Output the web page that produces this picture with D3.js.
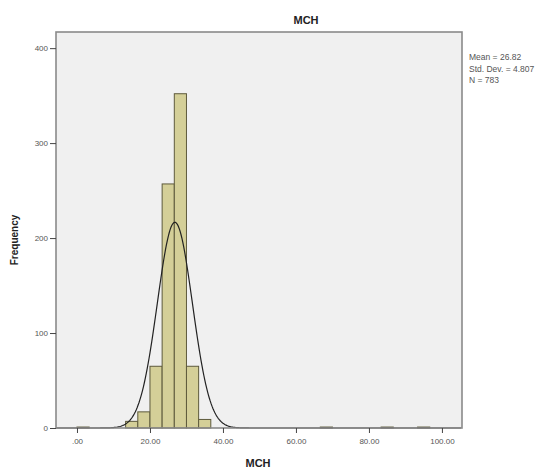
<!DOCTYPE html>
<html>
<head>
<meta charset="utf-8">
<script src="https://cdn.jsdelivr.net/npm/d3@7"></script>
<style>
  body { margin: 0; background: #fff; }
  text { font-family: Arial, "Liberation Sans", sans-serif; }
  .tick text { fill: #555; font-size: 8px; }
</style>
</head>
<body>
<script>
// Histogram of MCH with fitted normal curve (SPSS style).

// Bin lower edges (bin width 100/30) and counts.
var binStarts = [0, 13.333, 16.667, 20, 23.333, 26.667, 30, 33.333, 66.667, 83.333, 93.333];
var binCounts = [1, 7, 17, 65, 257, 352, 65, 9, 1, 1, 1];
var binWidth = 100 / 30;

var xTicks = [0, 20, 40, 60, 80, 100];
var xTickLabels = ['.00', '20.00', '40.00', '60.00', '80.00', '100.00'];
var yTicks = [0, 100, 200, 300, 400];

var statLabels = ['Mean = 26.82', 'Std. Dev. = 4.807', 'N = 783'];
var mean = 26.82, sd = 4.807, n = 783;

var width = 553, height = 470;
var box = { left: 56, right: 462, top: 32, bottom: 428 };

var svg = d3.select('body').append('svg')
  .attr('width', width)
  .attr('height', height);

var x = d3.scaleLinear().domain([-5.75, 105.5]).range([box.left, box.right]);
var y = d3.scaleLinear().domain([0, 417]).range([box.bottom, box.top]);

// plot background
svg.append('rect')
  .attr('x', box.left).attr('y', box.top)
  .attr('width', box.right - box.left).attr('height', box.bottom - box.top)
  .attr('fill', '#f0f0f0');

// bars
svg.append('g').selectAll('rect')
  .data(binStarts.map(function (s, i) { return { s: s, c: binCounts[i] }; }))
  .join('rect')
  .attr('x', function (d) { return x(d.s); })
  .attr('y', function (d) { return y(d.c); })
  .attr('width', function (d) { return x(d.s + binWidth) - x(d.s); })
  .attr('height', function (d) { return y(0) - y(d.c); })
  .attr('fill', '#d4cf98')
  .attr('stroke', '#5e5a3c')
  .attr('stroke-width', 1);

// fitted normal curve
var curvePts = d3.range(-5.75, 105.5, 0.25).map(function (v) {
  var z = (v - mean) / sd;
  return [v, n * binWidth / (sd * Math.sqrt(2 * Math.PI)) * Math.exp(-0.5 * z * z)];
});
svg.append('path')
  .datum(curvePts)
  .attr('fill', 'none')
  .attr('stroke', '#222')
  .attr('stroke-width', 1.2)
  .attr('d', d3.line()
    .x(function (d) { return x(d[0]); })
    .y(function (d) { return y(d[1]); }));

// frame
svg.append('rect')
  .attr('x', box.left).attr('y', box.top)
  .attr('width', box.right - box.left).attr('height', box.bottom - box.top)
  .attr('fill', 'none')
  .attr('stroke', '#8a8a8a')
  .attr('stroke-width', 1.6);

// axes
var xAxis = svg.append('g')
  .attr('transform', 'translate(0,' + box.bottom + ')')
  .call(d3.axisBottom(x).tickValues(xTicks)
    .tickFormat(function (d, i) { return xTickLabels[i]; })
    .tickSize(5).tickPadding(5));
xAxis.select('.domain').remove();
xAxis.selectAll('line').attr('stroke', '#444');

var yAxis = svg.append('g')
  .attr('transform', 'translate(' + box.left + ',0)')
  .call(d3.axisLeft(y).tickValues(yTicks).tickSize(6).tickPadding(2));
yAxis.select('.domain').remove();
yAxis.selectAll('line').attr('stroke', '#444');

// titles
svg.append('text')
  .attr('x', 306).attr('y', 24)
  .attr('text-anchor', 'middle')
  .attr('font-size', 11).attr('font-weight', 'bold').attr('fill', '#222')
  .text('MCH');

svg.append('text')
  .attr('x', 258).attr('y', 467)
  .attr('text-anchor', 'middle')
  .attr('font-size', 11).attr('font-weight', 'bold').attr('fill', '#222')
  .text('MCH');

svg.append('text')
  .attr('transform', 'translate(18,' + 240 + ') rotate(-90)')
  .attr('text-anchor', 'middle')
  .attr('font-size', 10).attr('font-weight', 'bold').attr('fill', '#222')
  .text('Frequency');

// stats box
svg.append('g').selectAll('text')
  .data(statLabels)
  .join('text')
  .attr('x', 469)
  .attr('y', function (d, i) { return 60 + i * 11.5; })
  .attr('font-size', 8.5).attr('fill', '#555')
  .text(function (d) { return d; });
</script>
</body>
</html>
